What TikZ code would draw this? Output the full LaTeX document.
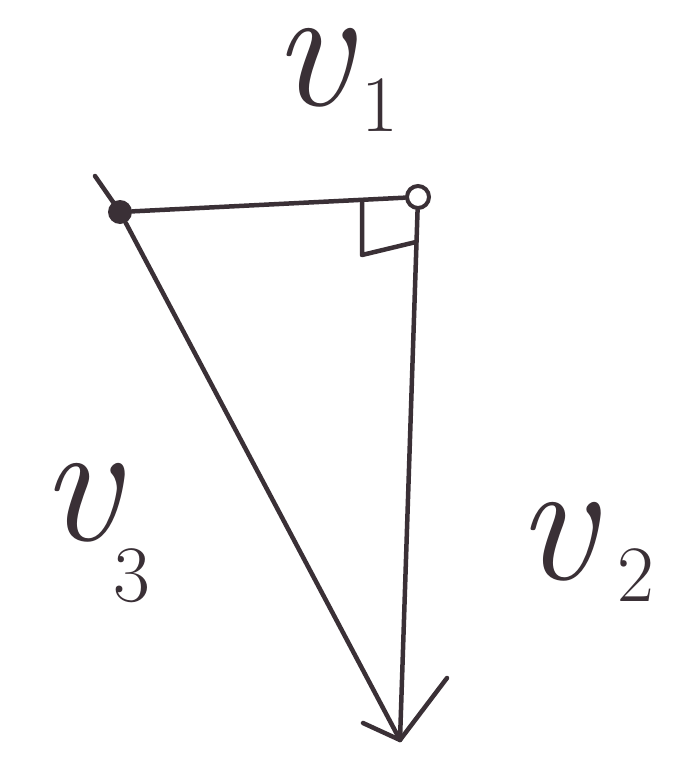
\documentclass[tikz,border=0pt]{standalone}
\begin{document}
\begin{tikzpicture}[x=1pt,y=-1pt,
  ink/.style={draw=inkc,line width=4.5pt,line cap=round,line join=round},
  lbl/.style={text=inkc,inner sep=0pt},
  vlbl/.style={lbl,font=\fontsize{175}{175}\selectfont\itshape,text height=75pt,text depth=0pt},
  slbl/.style={lbl,font=\fontsize{80}{80}\selectfont}]
\definecolor{inkc}{HTML}{3A3036}
\useasboundingbox[fill=white] (0,0) rectangle (675,776);
% vertices
\node[circle,fill=inkc,minimum size=24pt,inner sep=0pt] (A) at (120,212) {};
\node[circle,draw=inkc,line width=4pt,fill=white,minimum size=22pt,inner sep=0pt] (B) at (418,197) {};
\coordinate (C) at (400,740);
\coordinate (Ctick) at (95,176);
% right angle mark
\coordinate (r1) at (362,201);
\coordinate (r2) at (362,255);
\coordinate (r3) at (416,242);
% arrow head prongs
\coordinate (h1) at (363,723);
\coordinate (h2) at (447,678);
% lines
\draw[ink] (Ctick) -- (A.center);
\draw[ink] (A) -- (B);
\draw[ink] (B) -- (C);
\draw[ink] (A) -- (C);
\draw[ink] (r1) -- (r2) -- (r3);
\draw[ink] (h1) -- (C) -- (h2);
% labels
\node[vlbl] (v1) at (312,68) {v};
\node[slbl] (v1s) at (380,105) {1};
\node[vlbl] (v3) at (80,503) {v};
\node[slbl] (v3s) at (132,576) {3};
\node[vlbl] (v2) at (556,542) {v};
\node[slbl] (v2s) at (636,575) {2};
\end{tikzpicture}
\end{document}
